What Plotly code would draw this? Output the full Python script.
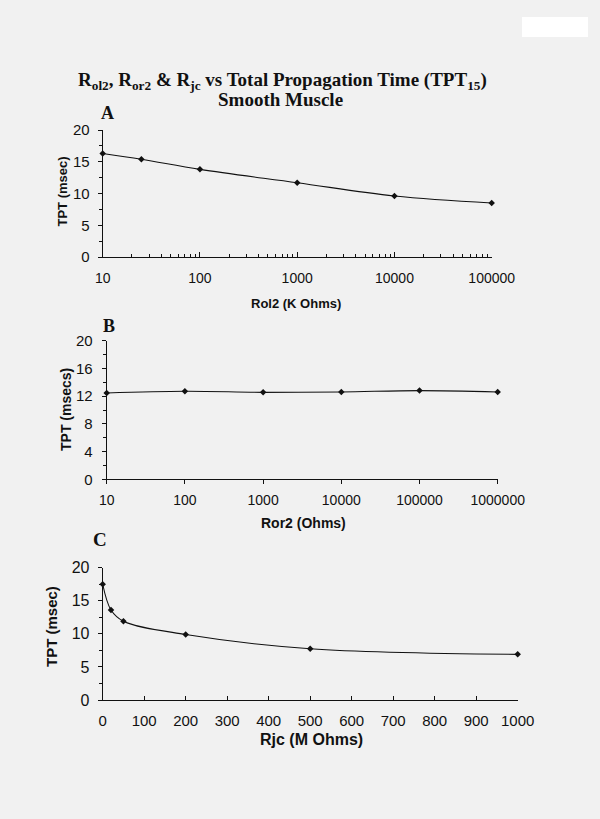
import plotly.graph_objects as go

# ---------------- data ----------------
title_line1 = "R<sub>ol2</sub>, R<sub>or2</sub> &amp; R<sub>jc</sub> vs Total Propagation Time (TPT<sub>15</sub>)"
title_line2 = "Smooth Muscle"

a_x = [10, 25, 100, 1000, 10000, 100000]
a_y = [16.3, 15.4, 13.8, 11.7, 9.6, 8.5]
a_xticks = [10, 100, 1000, 10000, 100000]
a_yticks = [0, 5, 10, 15, 20]

b_x = [10, 100, 1000, 10000, 100000, 1000000]
b_y = [12.45, 12.7, 12.55, 12.6, 12.8, 12.6]
b_xticks = [10, 100, 1000, 10000, 100000, 1000000]
b_yticks = [0, 4, 8, 12, 16, 20]

c_x = [0, 20, 50, 200, 500, 1000]
c_y = [17.5, 13.6, 11.9, 9.9, 7.75, 6.9]
c_xticks = [0, 100, 200, 300, 400, 500, 600, 700, 800, 900, 1000]
c_yticks = [0, 5, 10, 15, 20]

a_xtitle, b_xtitle, c_xtitle = "Rol2 (K Ohms)", "Ror2 (Ohms)", "Rjc (M Ohms)"
a_ytitle, b_ytitle, c_ytitle = "TPT (msec)", "TPT (msecs)", "TPT (msec)"

# ---------------- figure ----------------
W, H = 600, 819
BG = "#f1f1f1"
INK = "#111111"
SANS = "Liberation Sans, Arial, sans-serif"
SERIF = "Liberation Serif, Times New Roman, serif"

def px_x(p):
    return p / W

def px_y(p):
    return 1 - p / H

fig = go.Figure()

line_style = dict(color=INK, width=1.1, shape="spline", smoothing=1.0)
marker_style = dict(symbol="diamond", size=5, color=INK)

fig.add_trace(go.Scatter(x=a_x, y=a_y, mode="lines+markers", line=line_style,
                         marker=marker_style, xaxis="x", yaxis="y", cliponaxis=False,
                         showlegend=False))
fig.add_trace(go.Scatter(x=b_x, y=b_y, mode="lines+markers", line=line_style,
                         marker=marker_style, xaxis="x2", yaxis="y2", cliponaxis=False,
                         showlegend=False))
fig.add_trace(go.Scatter(x=c_x, y=c_y, mode="lines+markers", line=line_style,
                         marker=marker_style, xaxis="x3", yaxis="y3", cliponaxis=False,
                         showlegend=False))

axis_common = dict(showgrid=False, zeroline=False, showline=True, linecolor=INK,
                   linewidth=1, tickcolor=INK, tickwidth=1, automargin=False)

fig.update_layout(
    width=W, height=H,
    margin=dict(l=0, r=0, t=0, b=0, pad=0),
    paper_bgcolor=BG, plot_bgcolor=BG,
    font=dict(family=SANS, color=INK),
    xaxis=dict(axis_common, type="log", range=[1, 5],
               domain=[px_x(102.7), px_x(491.7)], anchor="y",
               tickmode="array", tickvals=a_xticks, ticktext=[str(v) for v in a_xticks],
               ticks="inside", ticklen=5, ticklabelstandoff=8,
               minor=dict(ticks="inside", ticklen=3, dtick="D1", tickcolor=INK),
               tickfont=dict(size=14)),
    yaxis=dict(axis_common, range=[0, 20],
               domain=[px_y(257), px_y(130)], anchor="x",
               tickmode="array", tickvals=a_yticks, ticktext=[str(v) for v in a_yticks],
               ticks="outside", ticklen=4, ticklabelstandoff=5,
               minor=dict(ticks="outside", ticklen=3, dtick=2.5, tickcolor=INK),
               tickfont=dict(size=15)),
    xaxis2=dict(axis_common, type="log", range=[1, 6],
                domain=[px_x(106.7), px_x(497.7)], anchor="y2",
                tickmode="array", tickvals=b_xticks, ticktext=[str(v) for v in b_xticks],
                ticks="outside", ticklen=4, ticklabelstandoff=4,
                tickfont=dict(size=14)),
    yaxis2=dict(axis_common, range=[0, 20],
                domain=[px_y(479.3), px_y(340.7)], anchor="x2",
                tickmode="array", tickvals=b_yticks, ticktext=[str(v) for v in b_yticks],
                ticks="outside", ticklen=4, ticklabelstandoff=6,
                minor=dict(ticks="outside", ticklen=3, dtick=2, tickcolor=INK),
                tickfont=dict(size=15)),
    xaxis3=dict(axis_common, range=[0, 1000],
                domain=[px_x(102.7), px_x(517.7)], anchor="y3",
                tickmode="array", tickvals=c_xticks, ticktext=[str(v) for v in c_xticks],
                ticks="inside", ticklen=4, ticklabelstandoff=7,
                tickfont=dict(size=15)),
    yaxis3=dict(axis_common, range=[0, 20],
                domain=[px_y(700), px_y(567.7)], anchor="x3",
                tickmode="array", tickvals=c_yticks, ticktext=[str(v) for v in c_yticks],
                ticks="outside", ticklen=4, ticklabelstandoff=5,
                minor=dict(ticks="outside", ticklen=3, dtick=2.5, tickcolor=INK),
                tickfont=dict(size=16)),
)

def ann(text, x, y, size, family=SANS, bold=True, angle=0):
    t = f"<b>{text}</b>" if bold else text
    fig.add_annotation(text=t, x=px_x(x), y=px_y(y), xref="paper", yref="paper",
                       xanchor="center", yanchor="middle", showarrow=False,
                       textangle=angle, font=dict(family=family, size=size, color=INK))

# titles
ann(title_line1, 282, 81, 19, family=SERIF)
ann(title_line2, 280, 99, 19, family=SERIF)
# panel letters
ann("A", 107, 113, 18, family=SERIF)
ann("B", 109, 326, 18, family=SERIF)
ann("C", 100, 539, 19, family=SERIF)
# axis titles
ann(a_xtitle, 296, 303, 13)
ann(b_xtitle, 303, 523, 14)
ann(c_xtitle, 311, 739, 16)
ann(a_ytitle, 61.5, 191, 13, angle=-90)
ann(b_ytitle, 66, 410, 14, angle=-90)
ann(c_ytitle, 51, 627, 15, angle=-90)

# white patch in top-right corner of the page
fig.add_shape(type="rect", xref="paper", yref="paper",
              x0=px_x(522), x1=px_x(588), y0=px_y(37), y1=px_y(17),
              fillcolor="white", line=dict(width=0), layer="above")

fig.write_html("out.html", config={"displayModeBar": False},
               post_script="document.body.style.margin='0px';document.body.style.overflow='hidden';")
